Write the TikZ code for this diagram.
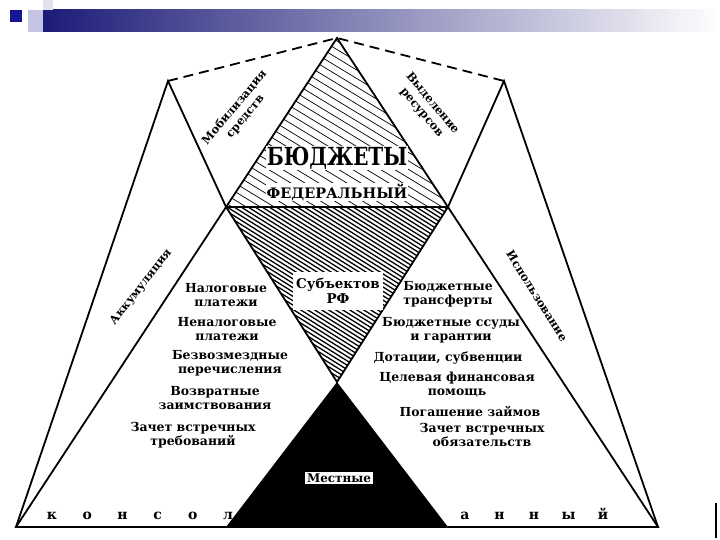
\documentclass[tikz,border=0pt]{standalone}
\usepackage{fontspec}
\setmainfont{DejaVu Serif}
\usetikzlibrary{calc}
\usetikzlibrary{positioning}

\definecolor{barblue}{RGB}{28,28,120}
\definecolor{lavender}{RGB}{196,196,226}

\begin{document}
\begin{tikzpicture}[x=1bp, y=-1bp,
    edge/.style={line width=1.8bp, line join=miter},
    hatch/.style={line width=0.7bp},
    densehatch/.style={line width=1.3bp},
    lbl/.style={font=\bfseries\fontsize{12.5}{14}\selectfont, align=center, inner sep=0pt},
    side/.style={font=\bfseries\fontsize{11.5}{14}\selectfont, align=center, inner sep=0pt},
    word/.style={font=\bfseries\fontsize{14}{14}\selectfont, inner sep=0pt, anchor=base}]
    \useasboundingbox (0,0) rectangle (720,540);
    % slide header
    \shade[left color=barblue, right color=white] (43,10) rectangle (720,32);
    \fill[lavender] (28,10) rectangle (43,32);
    \fill[lavender!50] (43,0) rectangle (53,10);
    \fill[barblue!80!blue] (10,10) rectangle (22,22);

    \coordinate (T) at (337,38);
    \coordinate (BL) at (16,527);
    \coordinate (BR) at (658,527);
    \coordinate (LP) at (168,81);
    \coordinate (RP) at (504,81);
    \coordinate (X1) at ($(BL)!0.6544!(T)$);
    \coordinate (X2) at ($(BR)!0.6544!(T)$);
    \coordinate (M) at (337,382);
    \coordinate (B1) at (X1 |- BL);
    \coordinate (B2) at (X2 |- BR);

    % federal: sparse hatch
    \begin{scope}
        \clip (T) -- (X1) -- (X2) -- cycle;
        \foreach \k in {-60,-46,...,460}
            \draw[hatch] (\k,38) -- ++(280,170);
    \end{scope}
    % subjects: dense hatch
    \begin{scope}
        \clip (X1) -- (X2) -- (M) -- cycle;
        \foreach \k in {-60,-53,...,460}
            \draw[densehatch] (\k,207) -- ++(280,175);
    \end{scope}
    % local
    \fill (M) -- (B1) -- (B2) -- cycle;

    \draw[edge] (BL) -- (BR) -- (T) -- cycle;
    \draw[edge] (X1) -- (X2);
    \draw[edge] (X1) -- (M) -- (X2);
    \draw[edge] (BL) -- (LP) -- (X1);
    \draw[edge] (BR) -- (RP) -- (X2);
    \draw[edge, dash pattern=on 10bp off 6bp] (LP) -- (T) -- (RP);

    \node[font=\bfseries\fontsize{20}{20}\selectfont, fill=white, inner sep=1bp] (budg) at (337,158) {\scalebox{1}[1.25]{БЮДЖЕТЫ}};
    \node[font=\bfseries\fontsize{14.5}{14.5}\selectfont, fill=white, inner sep=1bp] (fed) at (337,192) {ФЕДЕРАЛЬНЫЙ};
    \node[lbl, font=\bfseries\fontsize{13.5}{15}\selectfont, fill=white, minimum width=90bp, minimum height=37bp] (subj) at (338,291) {Субъектов\\РФ};
    \node[font=\bfseries\fontsize{12}{12}\selectfont, fill=white, inner sep=2bp] (mestn) at (339,478) {Местные};

    \node[side, rotate=50] (mobil) at (240,112) {Мобилизация\\средств};
    \node[side, rotate=-50] (vydel) at (427,108) {Выделение\\ресурсов};
    \node[side, rotate=52] (akkum) at (141,287) {Аккумуляция};
    \node[side, rotate=-58] (ispol) at (537,296) {Использование};

    % sources
    \node[lbl] (nalog) at (226,295) {Налоговые\\платежи};
    \node[lbl] (nenalog) at (227,329) {Неналоговые\\платежи};
    \node[lbl] (bezvozm) at (230,363) {Безвозмездные\\перечисления};
    \node[lbl] (vozvr) at (215,398) {Возвратные\\заимствования};
    \node[lbl] (zachtreb) at (193,435) {Зачет встречных\\требований};
    % uses
    \node[lbl] (transf) at (448,294) {Бюджетные\\трансферты};
    \node[lbl] (ssudy) at (451,330) {Бюджетные ссуды\\и гарантии};
    \node[lbl] (dotac) at (448,358) {Дотации, субвенции};
    \node[lbl] (celev) at (457,385) {Целевая финансовая\\помощь};
    \node[lbl] (pogash) at (470,411) {Погашение займов};
    \node[lbl] (zachob) at (482,435) {Зачет встречных\\обязательств};

    \foreach \c [count=\i from 0] in {к,о,н,с,о,л}
        \node[word] (kl\i) at (52+35.2*\i,519) {\c};
    \foreach \c [count=\i from 0] in {а,н,н,ы,й}
        \node[word] (kr\i) at (465+34.5*\i,519) {\c};

    \draw[line width=2bp] (716,503) -- (716,538);
\end{tikzpicture}
\end{document}
